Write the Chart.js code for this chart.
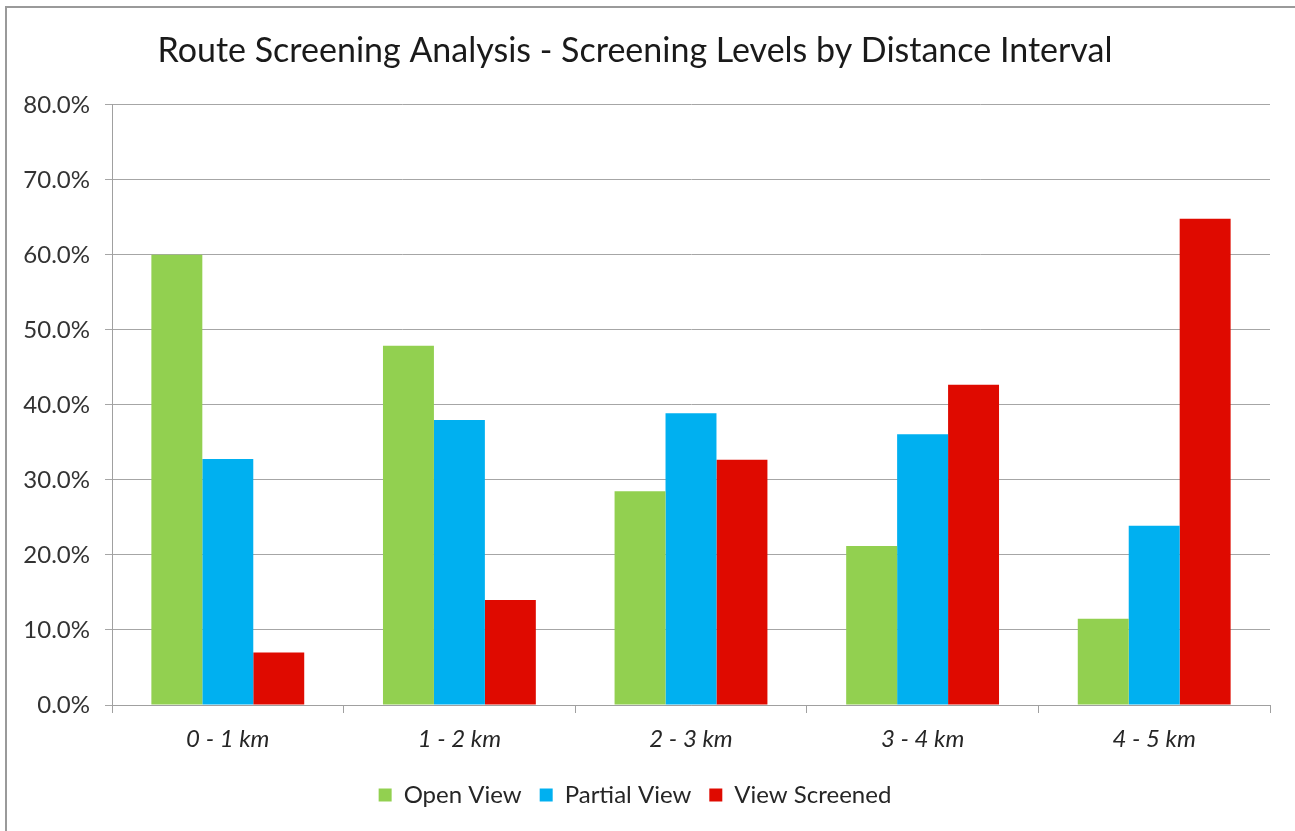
<!DOCTYPE html>
<html>
<head>
<meta charset="utf-8">
<script src="https://cdn.jsdelivr.net/npm/chart.js@4.4.0/dist/chart.umd.min.js"></script>
<style>
  html, body { margin: 0; padding: 0; background: #fff; overflow: hidden; }
  #wrap { position: relative; width: 1295px; height: 831px; }
  #frame {
    position: absolute; left: 5px; top: 6px; width: 1300px; height: 840px;
    border-top: 2px solid #9a9a9a; border-left: 2px solid #9a9a9a;
    box-sizing: border-box; pointer-events: none;
  }
  canvas { position: absolute; left: 0; top: 0; }
</style>
</head>
<body>
<div id="wrap">
  <canvas id="chart" width="1295" height="831"></canvas>
  <div id="frame"></div>
</div>
<script>
    // categories and series
    var distanceLabels = ['0 - 1 km', '1 - 2 km', '2 - 3 km', '3 - 4 km', '4 - 5 km'];
    var openView = [60.0, 47.9, 28.5, 21.2, 11.5];
    var partialView = [32.8, 38.0, 38.9, 36.1, 23.9];
    var viewScreened = [7.0, 14.0, 32.7, 42.7, 64.8];

    var FONT = 'Lato, "Open Sans", sans-serif';

    var ctx = document.getElementById('chart').getContext('2d');
    var chart = new Chart(ctx, {
        type: 'bar',
        data: {
            labels: distanceLabels,
            datasets: [{
                label: 'Open View',
                data: openView,
                backgroundColor: '#92d050'
            }, {
                label: 'Partial View',
                data: partialView,
                backgroundColor: '#00b0f0'
            }, {
                label: 'View Screened',
                data: viewScreened,
                backgroundColor: '#df0a00'
            }]
        },
        options: {
            responsive: false,
            animation: false,
            layout: {
                padding: { left: 0, right: 25, top: 0, bottom: 14 }
            },
            datasets: {
                bar: {
                    categoryPercentage: 0.66,
                    barPercentage: 1.0
                }
            },
            plugins: {
                title: {
                    display: true,
                    text: 'Route Screening Analysis - Screening Levels by Distance Interval',
                    color: '#1a1a1a',
                    font: { family: FONT, size: 34, weight: 'normal' },
                    padding: { top: 31, bottom: 33 }
                },
                legend: {
                    position: 'bottom',
                    labels: {
                        color: '#262626',
                        font: { family: FONT, size: 24 },
                        boxWidth: 13,
                        boxHeight: 13,
                        padding: 18
                    }
                },
                tooltip: { enabled: false }
            },
            scales: {
                x: {
                    grid: {
                        offset: true,
                        drawOnChartArea: false,
                        tickLength: 8,
                        color: '#a0a0a0'
                    },
                    border: { color: '#a0a0a0' },
                    ticks: {
                        color: '#262626',
                        font: { family: FONT, size: 24, style: 'italic' },
                        padding: 12
                    },
                    afterFit: function (scale) { scale.height = 60; }
                },
                y: {
                    min: 0,
                    max: 80,
                    grid: {
                        color: '#a6a6a6',
                        tickLength: 7
                    },
                    border: { color: '#a0a0a0' },
                    ticks: {
                        stepSize: 10,
                        color: '#333333',
                        font: { family: FONT, size: 24 },
                        padding: 15,
                        callback: function (v) { return v.toFixed(1) + '%'; }
                    },
                    afterFit: function (scale) { scale.width = 112; }
                }
            }
        }
    });
</script>
</body>
</html>
